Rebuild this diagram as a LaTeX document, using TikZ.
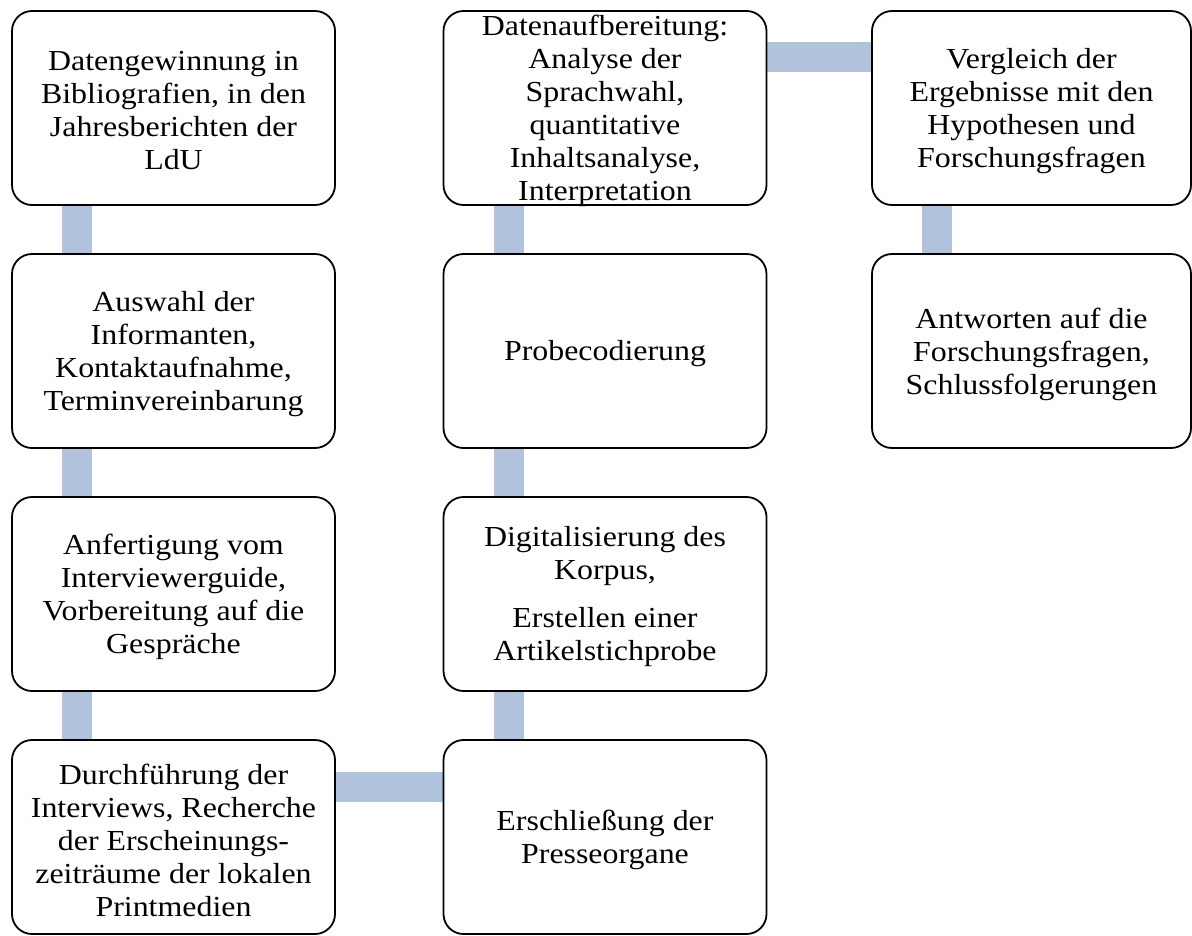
\documentclass[tikz,border=0pt]{standalone}
\usepackage{fontspec}
\setmainfont{Liberation Serif}[FakeStretch=1.1]
\usepackage{tikz}
\usetikzlibrary{backgrounds}

\definecolor{azulbarra}{RGB}{177,194,220}
\newcommand{\textocaja}[1]{\parbox[c][194pt][c]{315pt}{\centering\vspace*{6pt}#1}}

\begin{document}
\begin{tikzpicture}[x=1pt, y=-1pt,
    caja/.style={draw, line width=1.8pt, rounded corners=20pt, fill=white,
        minimum width=323pt, minimum height=194pt, inner sep=0pt,
        font=\fontsize{29}{33}\selectfont},
    barra/.style={draw=azulbarra, line width=30pt}]

    \useasboundingbox (0,0) rectangle (1192,935);

    % Primera columna
    \node[caja] (gewinnung) at (173.5,108)
        {\textocaja{Datengewinnung in\\ Bibliografien, in den\\ Jahresberichten der\\ LdU}};
    \node[caja] (auswahl) at (173.5,351)
        {\textocaja{Auswahl der\\ Informanten,\\ Kontaktaufnahme,\\ Terminvereinbarung}};
    \node[caja] (anfertigung) at (173.5,594)
        {\textocaja{Anfertigung vom\\ Interviewerguide,\\ Vorbereitung auf die\\ Gespräche}};
    \node[caja] (durchfuehrung) at (173.5,837)
        {\textocaja{Durchführung der\\ Interviews, Recherche\\ der Erscheinungs-\\ zeiträume der lokalen\\ Printmedien}};

    % Segunda columna
    \node[caja] (aufbereitung) at (605,108)
        {\textocaja{Datenaufbereitung:\\ Analyse der\\ Sprachwahl,\\ quantitative\\ Inhaltsanalyse,\\ Interpretation}};
    \node[caja] (probe) at (605,351)
        {\textocaja{Probecodierung}};
    \node[caja] (digital) at (605,594)
        {\textocaja{Digitalisierung des\\ Korpus,\\[15pt] Erstellen einer\\ Artikelstichprobe}};
    \node[caja] (erschliessung) at (605,837)
        {\textocaja{Erschließung der\\ Presseorgane}};

    % Tercera columna
    \node[caja, minimum width=319pt] (vergleich) at (1031.5,108)
        {\textocaja{Vergleich der\\ Ergebnisse mit den\\ Hypothesen und\\ Forschungsfragen}};
    \node[caja, minimum width=319pt] (antworten) at (1031.5,351)
        {\textocaja{Antworten auf die\\ Forschungsfragen,\\ Schlussfolgerungen}};

    % Barras de union
    \begin{scope}[on background layer]
        \draw[barra] ([xshift=66pt]gewinnung.south west) -- ([xshift=66pt]auswahl.north west);
        \draw[barra] ([xshift=66pt]auswahl.south west) -- ([xshift=66pt]anfertigung.north west);
        \draw[barra] ([xshift=66pt]anfertigung.south west) -- ([xshift=66pt]durchfuehrung.north west);
        \draw[barra] ([yshift=-48pt]durchfuehrung.north east) -- ([yshift=-48pt]erschliessung.north west);
        \draw[barra] ([xshift=66pt]erschliessung.north west) -- ([xshift=66pt]digital.south west);
        \draw[barra] ([xshift=66pt]digital.north west) -- ([xshift=66pt]probe.south west);
        \draw[barra] ([xshift=66pt]probe.north west) -- ([xshift=66pt]aufbereitung.south west);
        \draw[barra] ([yshift=-47pt]aufbereitung.north east) -- ([yshift=-47pt]vergleich.north west);
        \draw[barra] ([xshift=66pt]vergleich.south west) -- ([xshift=66pt]antworten.north west);
    \end{scope}

\end{tikzpicture}
\end{document}
